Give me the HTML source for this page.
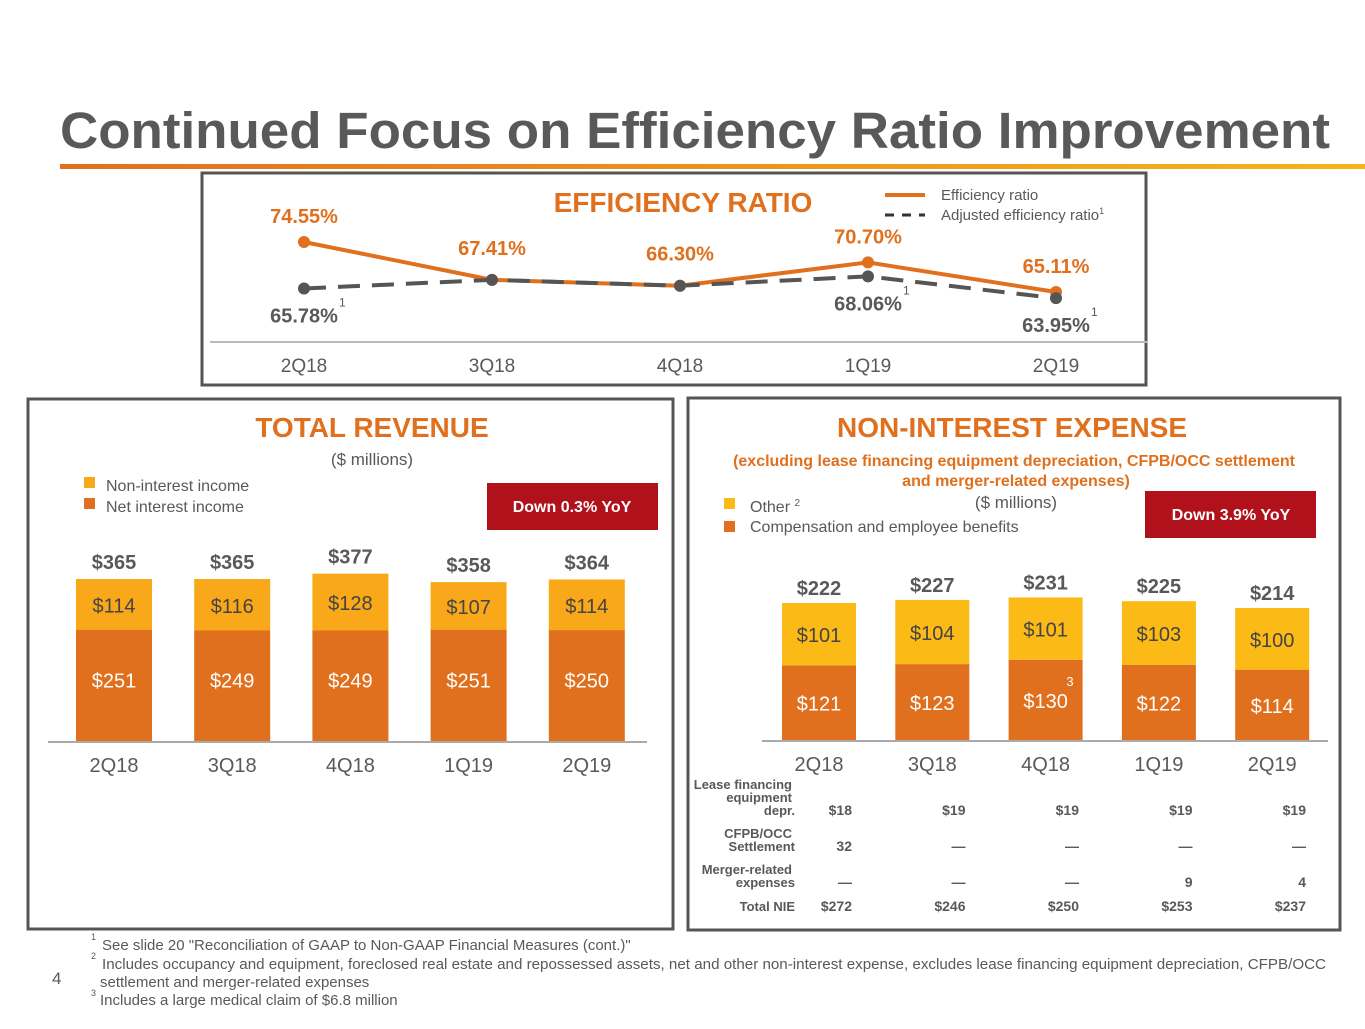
<!DOCTYPE html>
<html><head><meta charset="utf-8"><style>
body{margin:0;background:#fff;width:1365px;height:1024px;overflow:hidden;font-family:"Liberation Sans",Arial,sans-serif}
svg text{font-family:"Liberation Sans",Arial,sans-serif}
</style></head><body>
<svg id="s" width="1365" height="1024" xmlns="http://www.w3.org/2000/svg">
<defs><linearGradient id="g" x1="0" x2="1"><stop offset="0" stop-color="#E0701E"/><stop offset="1" stop-color="#F5B41A"/></linearGradient></defs>
<text x="60" y="148" font-size="51" font-weight="bold" fill="#595959" textLength="1270" lengthAdjust="spacingAndGlyphs">Continued Focus on Efficiency Ratio Improvement</text>
<rect x="60" y="164" width="1305" height="5" fill="url(#g)"/>
<rect x="202" y="173" width="944" height="212" fill="none" stroke="#555" stroke-width="3"/>
<rect x="28" y="399" width="645" height="530" fill="none" stroke="#555" stroke-width="3"/>
<rect x="688" y="398" width="652" height="532" fill="none" stroke="#555" stroke-width="3"/>
<text x="683" y="212" font-size="28" font-weight="bold" fill="#E0701E" text-anchor="middle">EFFICIENCY RATIO</text>
<line x1="885" y1="195" x2="925" y2="195" stroke="#E0701E" stroke-width="4"/>
<text x="941" y="200" font-size="15" fill="#595959">Efficiency ratio</text>
<line x1="885" y1="215" x2="925" y2="215" stroke="#333" stroke-width="3" stroke-dasharray="9,8"/>
<text x="941" y="220" font-size="15" fill="#595959">Adjusted efficiency ratio<tspan font-size="9" dy="-6">1</tspan></text>
<line x1="210" y1="342" x2="1148" y2="342" stroke="#bbb" stroke-width="2"/>
<g id="eff"></g>
<text x="372" y="437" font-size="28" font-weight="bold" fill="#E0701E" text-anchor="middle">TOTAL REVENUE</text>
<text x="372" y="465" font-size="17" fill="#595959" text-anchor="middle">($ millions)</text>
<rect x="84" y="477" width="11" height="11" fill="#F9A81A"/>
<text x="106" y="491" font-size="16" fill="#595959">Non-interest income</text>
<rect x="84" y="498" width="11" height="11" fill="#E0701E"/>
<text x="106" y="512" font-size="16" fill="#595959">Net interest income</text>
<rect x="487" y="483" width="171" height="47" fill="#B0111A"/>
<text x="572" y="512" font-size="16" font-weight="bold" fill="#fff" text-anchor="middle">Down 0.3% YoY</text>
<line x1="48" y1="742" x2="647" y2="742" stroke="#aaa" stroke-width="2"/>
<g id="rev"></g>
<text x="1012" y="437" font-size="28" font-weight="bold" fill="#E0701E" text-anchor="middle">NON-INTEREST EXPENSE</text>
<text x="1014" y="466" font-size="16" font-weight="bold" fill="#E0701E" text-anchor="middle">(excluding lease financing equipment depreciation, CFPB/OCC settlement</text>
<text x="1016" y="486" font-size="16" font-weight="bold" fill="#E0701E" text-anchor="middle">and merger-related expenses)</text>
<text x="1016" y="508" font-size="17" fill="#595959" text-anchor="middle">($ millions)</text>
<rect x="724" y="498" width="11" height="11" fill="#FBBA16"/>
<text x="750" y="512" font-size="16" fill="#595959">Other <tspan font-size="10" dy="-6">2</tspan></text>
<rect x="724" y="521" width="11" height="11" fill="#E0701E"/>
<text x="750" y="532" font-size="16" fill="#595959">Compensation and employee benefits</text>
<rect x="1145" y="491" width="171" height="47" fill="#B0111A"/>
<text x="1231" y="520" font-size="16" font-weight="bold" fill="#fff" text-anchor="middle">Down 3.9% YoY</text>
<line x1="762" y1="741" x2="1328" y2="741" stroke="#aaa" stroke-width="2"/>
<g id="nie"></g>
<g font-size="13" font-weight="bold" fill="#595959" text-anchor="end">
<text x="792" y="789">Lease financing</text><text x="792" y="802">equipment</text><text x="795" y="815">depr.</text>
<text x="792" y="838">CFPB/OCC</text><text x="795" y="851">Settlement</text>
<text x="792" y="874">Merger-related</text><text x="795" y="887">expenses</text>
<text x="795" y="911">Total NIE</text>
</g>
<g id="tbl" font-size="14" font-weight="bold" fill="#595959" text-anchor="end"></g>
<g font-size="15" fill="#595959">
<text x="91" y="940" font-size="9">1</text><text x="102" y="950">See slide 20 "Reconciliation of GAAP to Non-GAAP Financial Measures (cont.)"</text>
<text x="91" y="959" font-size="9">2</text><text x="102" y="969" textLength="1224" lengthAdjust="spacingAndGlyphs">Includes occupancy and equipment, foreclosed real estate and repossessed assets, net and other non-interest expense, excludes lease financing equipment depreciation, CFPB/OCC</text>
<text x="100" y="987">settlement and merger-related expenses</text>
<text x="91" y="996" font-size="9">3</text><text x="100" y="1005">Includes a large medical claim of $6.8 million</text>
<text x="52" y="984" font-size="17">4</text>
</g>
</svg>
<script>
const quarters=["2Q18","3Q18","4Q18","1Q19","2Q19"];
const effRatio=[74.55,67.41,66.30,70.70,65.11];
const adjRatio=[65.78,67.41,66.30,68.06,63.95];
const adjLabelShown=[true,false,false,true,true];
const revNet=[251,249,249,251,250];
const revNonInt=[114,116,128,107,114];
const nieComp=[121,123,130,122,114];
const nieOther=[101,104,101,103,100];
const tblLease=["$18","$19","$19","$19","$19"];
const tblCfpb=["32","—","—","—","—"];
const tblMerger=["—","—","—","9","4"];
const tblTotal=["$272","$246","$250","$253","$237"];
const NS="http://www.w3.org/2000/svg";
function mk(p,t,a,txt){const e=document.createElementNS(NS,t);for(const k in a)e.setAttribute(k,a[k]);if(txt!==undefined)e.textContent=txt;p.appendChild(e);return e;}
const eff=document.getElementById('eff');
const ex=i=>304+i*188, ey=v=>242+(74.55-v)*5.3;
let pa=effRatio.map((v,i)=>ex(i)+','+ey(v)).join(' ');
let pb=adjRatio.map((v,i)=>ex(i)+','+ey(v)).join(' ');
let l1=mk(eff,'polyline',{points:pa,fill:'none',stroke:'#E0701E','stroke-width':4});


let l2=mk(eff,'polyline',{points:pb,fill:'none',stroke:'#555','stroke-width':4,'stroke-dasharray':'22,12'});


effRatio.forEach((v,i)=>{
 let c=mk(eff,'circle',{cx:ex(i),cy:ey(v),r:6,fill:'#E0701E'});
 
 
 let t=mk(eff,'text',{x:ex(i),y:ey(v)-(i==0||i==3||i==4?19:25),'font-size':20,'font-weight':'bold',fill:'#E0701E','text-anchor':'middle'},v.toFixed(2)+'%');
 
 
});
adjRatio.forEach((v,i)=>{
 let c=mk(eff,'circle',{cx:ex(i),cy:ey(v),r:6,fill:'#555'});
 
 
 if(adjLabelShown[i]){
  let t=mk(eff,'text',{x:ex(i),y:ey(v)+34,'font-size':20,'font-weight':'bold',fill:'#595959','text-anchor':'middle'},v.toFixed(2)+'%');
  
  
  mk(eff,'text',{x:ex(i)+35,y:ey(v)+18,'font-size':12,fill:'#595959'},'1');
 }
 let q=mk(eff,'text',{x:ex(i),y:372,'font-size':19,fill:'#595959','text-anchor':'middle'},quarters[i]);
 
 
});
function bars(id,base,scale,cx,w,bot,top,cb,ct,lblY,botOffset,totalOff){
 const g=document.getElementById(id);
 bot.forEach((b,i)=>{
  const x=cx(i)-w/2, hb=b*scale, ht=top[i]*scale;
  let r1=mk(g,'rect',{x:x,y:base-hb,width:w,height:hb,fill:cb});
  
  
  let r2=mk(g,'rect',{x:x,y:base-hb-ht,width:w,height:ht,fill:ct});
  
  
  mk(g,'text',{x:cx(i),y:base-hb/2+botOffset,'font-size':20,fill:'#fff','text-anchor':'middle'},'$'+b);
  mk(g,'text',{x:cx(i),y:base-hb-ht/2+8,'font-size':20,fill:'#444','text-anchor':'middle'},'$'+top[i]);
  let tt=mk(g,'text',{x:cx(i),y:base-hb-ht-totalOff,'font-size':20,'font-weight':'bold',fill:'#595959','text-anchor':'middle'},'$'+(b+top[i]));
  
  
  let q=mk(g,'text',{x:cx(i),y:lblY,'font-size':20,fill:'#595959','text-anchor':'middle'},quarters[i]);
  
  
 });
 return g;
}
bars('rev',741,0.4438,i=>114+i*118.2,76,revNet,revNonInt,'#E0701E','#F9A81A',772,2,10);
const ng=bars('nie',740,0.617,i=>819+i*113.3,74,nieComp,nieOther,'#E0701E','#FBBA16',771,8,8);
mk(ng,'text',{x:1070,y:686,'font-size':13,fill:'#fff','text-anchor':'middle'},'3');
const tb=document.getElementById('tbl');
const tx=i=>852+i*113.5;
[[tblLease,815],[tblCfpb,851],[tblMerger,887],[tblTotal,911]].forEach(([arr,y])=>{
 arr.forEach((v,i)=>{let t=mk(tb,'text',{x:tx(i),y:y},v);
  
  });
});
</script>
</body></html>
